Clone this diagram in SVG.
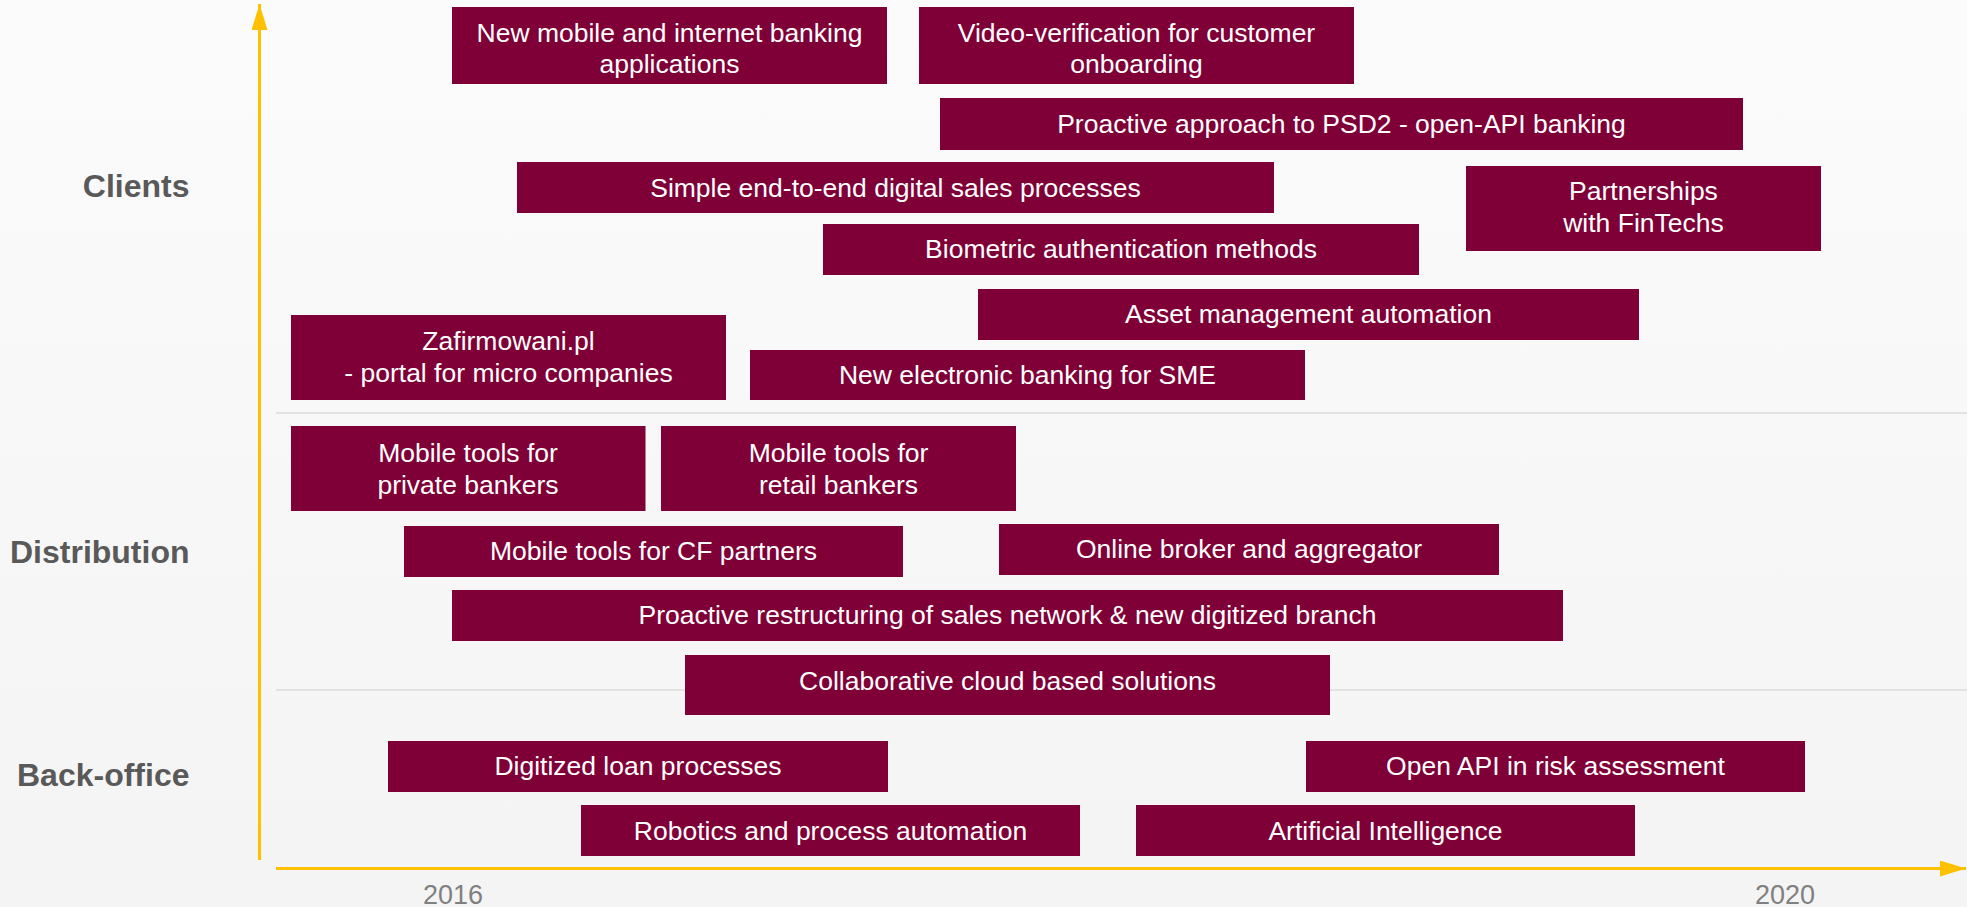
<svg xmlns="http://www.w3.org/2000/svg" width="1967" height="907" viewBox="0 0 1967 907">
<style>
.box{fill:#7F0037}
.t{font-family:"Liberation Sans",Arial,sans-serif;font-size:26.5px;fill:#FFFFFF;text-anchor:middle}
.lbl{font-family:"Liberation Sans",Arial,sans-serif;font-size:32px;font-weight:bold;fill:#595959;text-anchor:end}
.yr{font-family:"Liberation Sans",Arial,sans-serif;font-size:27px;fill:#808080;text-anchor:middle}
.sep{stroke:#E2E2E2;stroke-width:2;fill:none}
.axis{stroke:#FFC000;stroke-width:3;fill:none}
</style>
<defs>
<marker id="ah" markerUnits="userSpaceOnUse" markerWidth="28" markerHeight="18" refX="26" refY="8" orient="auto">
<path d="M0,0 L26,8 L0,16 Z" fill="#FFC000"/>
</marker>
<linearGradient id="bg" x1="0" y1="0" x2="0" y2="1">
<stop offset="0" stop-color="#FBFBFB"/>
<stop offset="1" stop-color="#F4F4F4"/>
</linearGradient>
</defs>
<rect x="0" y="0" width="1967" height="907" fill="url(#bg)"/>
<g id="separators">
<line class="sep" x1="276" y1="413" x2="1967" y2="413"/>
<line class="sep" x1="276" y1="690" x2="1967" y2="690"/>
</g>
<g id="connectors">
<line class="axis" x1="259.5" y1="860" x2="259.5" y2="4" marker-end="url(#ah)"/>
<line class="axis" x1="276" y1="868.5" x2="1966" y2="868.5" marker-end="url(#ah)"/>
</g>
<g id="labels">
<text class="lbl" x="189.5" y="196.7">Clients</text>
<text class="lbl" x="189.5" y="562.7">Distribution</text>
<text class="lbl" x="189.5" y="785.7">Back-office</text>
<text class="yr" x="453" y="904">2016</text>
<text class="yr" x="1785" y="904">2020</text>
</g>
<g id="n-new-mobile"><rect class="box" x="452" y="7" width="435" height="77"/><text class="t" x="669.5" y="41.7">New mobile and internet banking</text><text class="t" x="669.5" y="73.4">applications</text></g>
<g id="n-video"><rect class="box" x="919" y="7" width="435" height="77"/><text class="t" x="1136.5" y="41.7">Video-verification for customer</text><text class="t" x="1136.5" y="73.4">onboarding</text></g>
<g id="n-psd2"><rect class="box" x="940" y="98" width="803" height="52"/><text class="t" x="1341.5" y="133">Proactive approach to PSD2 - open-API banking</text></g>
<g id="n-simple"><rect class="box" x="517" y="162" width="757" height="51"/><text class="t" x="895.5" y="196.7">Simple end-to-end digital sales processes</text></g>
<g id="n-partnerships"><rect class="box" x="1466" y="166" width="355" height="85"/><text class="t" x="1643.5" y="200">Partnerships</text><text class="t" x="1643.5" y="231.7">with FinTechs</text></g>
<g id="n-biometric"><rect class="box" x="823" y="224" width="596" height="51"/><text class="t" x="1121" y="258.3">Biometric authentication methods</text></g>
<g id="n-asset"><rect class="box" x="978" y="289" width="661" height="51"/><text class="t" x="1308.5" y="323.3">Asset management automation</text></g>
<g id="n-zafirmowani"><rect class="box" x="291" y="315" width="435" height="85"/><text class="t" x="508.5" y="350">Zafirmowani.pl</text><text class="t" x="508.5" y="381.7">- portal for micro companies</text></g>
<g id="n-sme"><rect class="box" x="750" y="350" width="555" height="50"/><text class="t" x="1027.5" y="384">New electronic banking for SME</text></g>
<g id="n-mobile-private"><rect class="box" x="291" y="426" width="354.5" height="85"/><text class="t" x="468" y="461.7">Mobile tools for</text><text class="t" x="468" y="494">private bankers</text></g>
<g id="n-mobile-retail"><rect class="box" x="661" y="426" width="355" height="85"/><text class="t" x="838.5" y="461.7">Mobile tools for</text><text class="t" x="838.5" y="494">retail bankers</text></g>
<g id="n-mobile-cf"><rect class="box" x="404" y="526" width="499" height="51"/><text class="t" x="653.5" y="560">Mobile tools for CF partners</text></g>
<g id="n-online-broker"><rect class="box" x="999" y="524" width="500" height="51"/><text class="t" x="1249" y="558.3">Online broker and aggregator</text></g>
<g id="n-restructuring"><rect class="box" x="452" y="590" width="1111" height="51"/><text class="t" x="1007.5" y="624">Proactive restructuring of sales network &amp; new digitized branch</text></g>
<g id="n-collaborative"><rect class="box" x="685" y="655" width="645" height="60"/><text class="t" x="1007.5" y="690">Collaborative cloud based solutions</text></g>
<g id="n-digitized-loan"><rect class="box" x="388" y="741" width="500" height="51"/><text class="t" x="638" y="775">Digitized loan processes</text></g>
<g id="n-open-api-risk"><rect class="box" x="1306" y="741" width="499" height="51"/><text class="t" x="1555.5" y="775">Open API in risk assessment</text></g>
<g id="n-robotics"><rect class="box" x="581" y="805" width="499" height="51"/><text class="t" x="830.5" y="840">Robotics and process automation</text></g>
<g id="n-ai"><rect class="box" x="1136" y="805" width="499" height="51"/><text class="t" x="1385.5" y="840">Artificial Intelligence</text></g>
</svg>
